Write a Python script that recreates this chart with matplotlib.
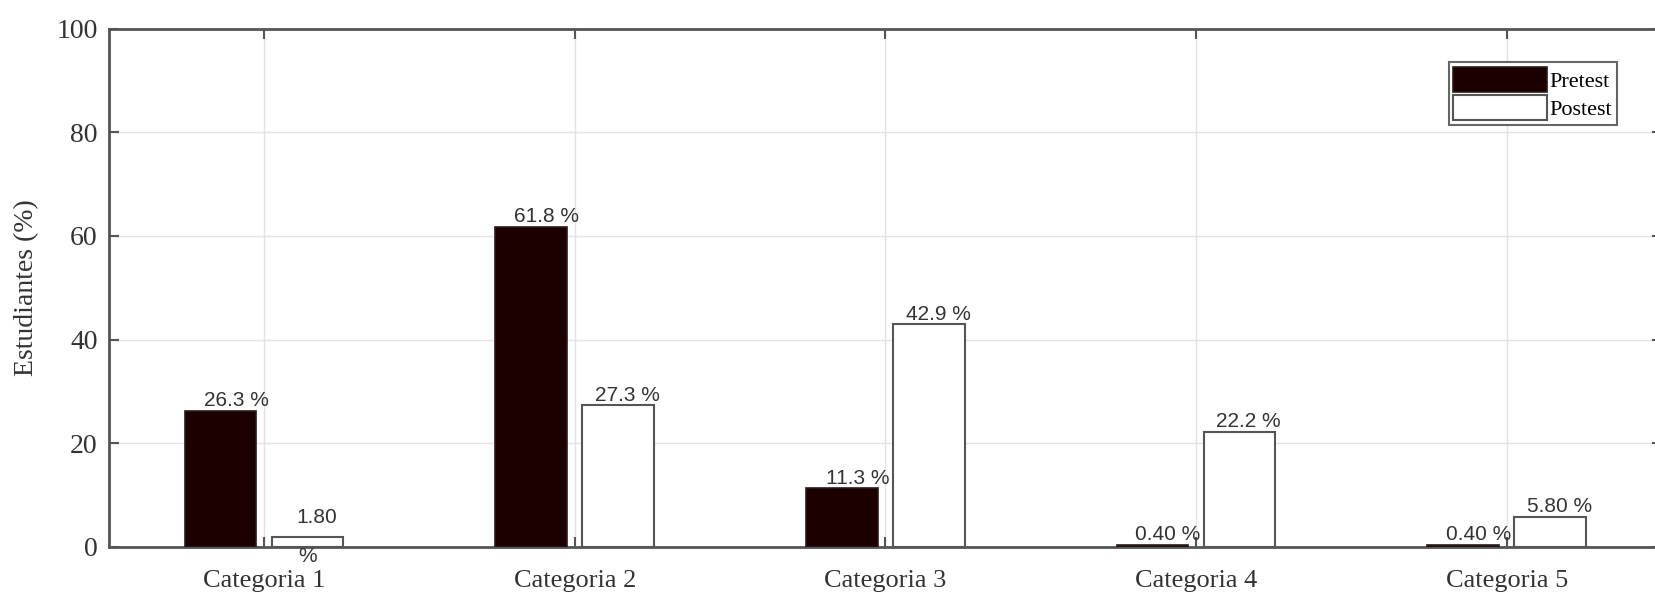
import matplotlib
matplotlib.use("Agg")
import matplotlib.pyplot as plt
import numpy as np

categories = ["Categoria 1", "Categoria 2", "Categoria 3", "Categoria 4", "Categoria 5"]
pretest = [26.3, 61.8, 11.3, 0.4, 0.4]
postest = [1.8, 27.3, 42.9, 22.2, 5.8]
pre_labels = ["26.3 %", "61.8 %", "11.3 %", "0.40 %", "0.40 %"]
post_labels = ["1.80 %", "27.3 %", "42.9 %", "22.2 %", "5.80 %"]
yticks = [0, 20, 40, 60, 80, 100]

fig = plt.figure(figsize=(16.55, 5.95), dpi=100)
ax = fig.add_axes([0.0657, 0.081, 0.9385, 0.871])

x = np.arange(1, len(categories) + 1)
w = 0.23
off = 0.14
pre_color = "#1c0000"
ax.bar(x - off, pretest, w, color=pre_color, edgecolor="#2a1a1a", linewidth=1.2,
       label="Pretest", zorder=3)
ax.bar(x + off, postest, w, color="white", edgecolor="#555555", linewidth=1.5,
       label="Postest", zorder=3)

lab_font = dict(family="Liberation Sans", fontsize=15, color="#333333")
for xi, v, s in zip(x - off, pretest, pre_labels):
    ax.text(xi + 0.05, v + 0.1, s, ha="center", va="bottom", zorder=4, **lab_font)
for i, (xi, v, s) in enumerate(zip(x + off, postest, post_labels)):
    if i == 0:
        ax.text(xi + 0.03, v + 2.0, "1.80", ha="center", va="bottom", zorder=4, **lab_font)
        ax.text(xi, -1.8, "%", ha="center", va="center", zorder=4, clip_on=False, **lab_font)
    else:
        ax.text(xi + 0.03, v + 0.1, s, ha="center", va="bottom", zorder=4, **lab_font)

ax.set_xlim(0.5, 5.5)
ax.set_ylim(0, 100)
ax.set_xticks(x)
ax.set_xticklabels(categories, family="Liberation Serif", fontsize=19, color="#333333")
ax.set_yticks(yticks)
ax.set_yticklabels([str(t) for t in yticks], family="Liberation Serif", fontsize=20, color="#333333")
ax.set_ylabel("Estudiantes (%)", family="Liberation Serif", fontsize=20, color="#333333", labelpad=12)

ax.tick_params(direction="in", top=True, right=True, length=7, width=1.5, color="#555555", pad=8)
ax.tick_params(axis="x", pad=17)
ax.grid(True, color="#e3e3e3", linewidth=1.0, zorder=0)
ax.set_axisbelow(True)
for sp in ax.spines.values():
    sp.set_color("#555555")
    sp.set_linewidth(2.0)

leg = ax.legend(loc="upper right", bbox_to_anchor=(0.971, 0.935), prop=dict(family="Liberation Serif", size=16),
                fancybox=False, edgecolor="#666666", framealpha=1, handlelength=4.2, handleheight=1.4,
                handletextpad=0.15, borderpad=0.2, labelspacing=0.1, borderaxespad=0)
leg.get_frame().set_linewidth(1.5)

fig.savefig("out.png", dpi=100)
